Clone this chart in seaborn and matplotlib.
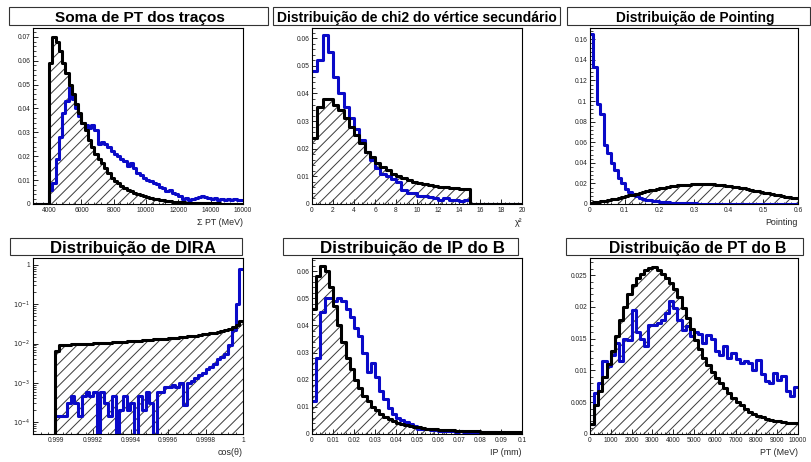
import numpy as np
import pandas as pd
import matplotlib
matplotlib.use("Agg")
import matplotlib.pyplot as plt
from matplotlib.patches import Rectangle
from matplotlib.ticker import MultipleLocator, FuncFormatter, LogLocator, NullFormatter
import seaborn as sns

# =====================================================
# DATA (normalised histograms)
# =====================================================

# Soma de PT dos tracos: 3000..16000 MeV, 200 MeV bins
sumpt_black = [0, 0, 0, 0, 0,
               0.059, 0.070, 0.068, 0.064, 0.059, 0.055, 0.050, 0.046, 0.042, 0.038,
               0.034, 0.031, 0.027, 0.024, 0.021, 0.019, 0.017, 0.015, 0.013, 0.011,
               0.0098, 0.0087, 0.0077, 0.0068, 0.006, 0.0053, 0.0047, 0.0041, 0.0036, 0.0032,
               0.0028, 0.0025, 0.0022, 0.0019, 0.0017, 0.0015, 0.0013, 0.0012, 0.0010, 0.0009,
               0.0008, 0.0007, 0.0006, 0.0006, 0.0005, 0.0005, 0.0004, 0.0004, 0.0004, 0.0003,
               0.0003, 0.0003, 0.0003, 0.0002, 0.0002, 0.0002, 0.0002, 0.0002, 0.0002, 0.0002]
sumpt_blue = [0, 0, 0, 0, 0,
              0.006, 0.009, 0.019, 0.028, 0.038, 0.043, 0.049, 0.044, 0.040, 0.037,
              0.034, 0.033, 0.032, 0.033, 0.031, 0.025, 0.026, 0.025, 0.024, 0.022,
              0.021, 0.020, 0.019, 0.018, 0.016, 0.017, 0.015, 0.013, 0.012, 0.011,
              0.010, 0.0095, 0.009, 0.0085, 0.007, 0.0065, 0.0055, 0.006, 0.0045, 0.004,
              0.0035, 0.002, 0.0025, 0.0015, 0.002, 0.0025, 0.003, 0.0035, 0.003, 0.0025,
              0.002, 0.0025, 0.0015, 0.002, 0.0015, 0.002, 0.0015, 0.002, 0.0015, 0.0015]

# chi2 do vertice secundario: 0..20, 0.5 bins
chi2_black = [0.024, 0.035, 0.038, 0.038, 0.036, 0.034, 0.031, 0.028, 0.025, 0.022,
              0.019, 0.017, 0.015, 0.0135, 0.0122, 0.011, 0.010, 0.0093, 0.0087, 0.0081,
              0.0076, 0.0072, 0.0068, 0.0065, 0.0062, 0.006, 0.0058, 0.0057, 0.0055, 0.0053,
              0, 0, 0, 0, 0, 0, 0, 0, 0, 0]
chi2_blue = [0.048, 0.052, 0.061, 0.055, 0.046, 0.040, 0.035, 0.031, 0.027, 0.023,
             0.019, 0.016, 0.013, 0.011, 0.010, 0.009, 0.008, 0.005, 0.004, 0.004,
             0.003, 0.003, 0.0025, 0.002, 0.0015, 0.002, 0.0015, 0.0015, 0.001, 0.0015,
             0, 0, 0, 0, 0, 0, 0, 0, 0, 0]

# Pointing: 0..0.6, 0.01 bins
point_black = [0.001, 0.0015, 0.002, 0.0025, 0.003, 0.0037, 0.0045, 0.0053, 0.006, 0.0068,
               0.0076, 0.0084, 0.0092, 0.010, 0.0108, 0.0116, 0.0124, 0.0132, 0.014, 0.0147,
               0.0154, 0.016, 0.0166, 0.0171, 0.0176, 0.018, 0.0183, 0.0186, 0.0188, 0.019,
               0.0191, 0.0192, 0.0192, 0.0192, 0.0191, 0.019, 0.0188, 0.0185, 0.0182, 0.0178,
               0.0174, 0.0169, 0.0164, 0.0158, 0.0152, 0.0145, 0.0138, 0.0131, 0.0124, 0.0117,
               0.011, 0.0103, 0.0096, 0.009, 0.0084, 0.0078, 0.0072, 0.0066, 0.006, 0.0054]
point_blue = [0.165, 0.133, 0.097, 0.087, 0.057, 0.050, 0.040, 0.033, 0.025, 0.020,
              0.015, 0.012, 0.010, 0.008, 0.006, 0.005, 0.004, 0.0035, 0.003, 0.0025,
              0.002, 0.0018, 0.0015, 0.0013, 0.001, 0.0009, 0.0008, 0.0007, 0.0006, 0.0005,
              0.0005, 0.0004, 0.0004, 0.0003, 0.0003, 0.0002, 0.0002, 0.0002, 0.0002, 0.0002,
              0.0002, 0.0002, 0.0002, 0.0002, 0.0002, 0.0001, 0.0001, 0.0001, 0.0001, 0.0001,
              0.0001, 0.0001, 0.0001, 0.0001, 0.0001, 0.0001, 0.0001, 0.0001, 0.0001, 0.0001]

# DIRA: 0.99888..1.0, 0.00002 bins (log y), empty below 0.999
dira_black = [0, 0, 0, 0, 0, 0,
              0.0065, 0.0092, 0.0093, 0.0094, 0.0095, 0.0096, 0.0097, 0.0098, 0.0099, 0.0100,
              0.0101, 0.0102, 0.0104, 0.0105, 0.0106, 0.0108, 0.0109, 0.0111, 0.0112, 0.0114,
              0.0116, 0.0117, 0.0119, 0.0121, 0.0123, 0.0125, 0.0127, 0.0129, 0.0131, 0.0134,
              0.0136, 0.0139, 0.0142, 0.0145, 0.0148, 0.0152, 0.0156, 0.0160, 0.0165, 0.0170,
              0.0176, 0.0183, 0.0190, 0.0199, 0.0210, 0.0223, 0.0240, 0.0262, 0.0295, 0.0380]
dira_blue = [0, 0, 0, 0, 0, 0,
             1.4e-4, 1.4e-4, 1.4e-4, 3.0e-4, 4.5e-4, 3.0e-4, 1.4e-4, 4.5e-4, 6.0e-4, 4.5e-4,
             6.0e-4, 0, 6.0e-4, 3.0e-4, 1.4e-4, 4.5e-4, 0, 2.0e-4, 4.5e-4, 2.0e-4,
             3.0e-4, 0, 4.5e-4, 2.0e-4, 6.0e-4, 3.0e-4, 0, 6.0e-4, 6.0e-4, 8.0e-4,
             8.0e-4, 9.0e-4, 8.0e-4, 1.0e-3, 2.7e-4, 1.0e-3, 1.1e-3, 1.3e-3, 1.6e-3, 1.8e-3,
             2.2e-3, 2.6e-3, 3.0e-3, 4.0e-3, 4.5e-3, 5.5e-3, 9.0e-3, 2.2e-2, 1.0e-1, 8.0e-1]

# IP do B: 0..0.1 mm, 0.002 bins
ip_black = [0.046, 0.058, 0.062, 0.060, 0.054, 0.047, 0.040, 0.034, 0.028, 0.024,
            0.020, 0.017, 0.014, 0.012, 0.010, 0.0088, 0.0075, 0.0064, 0.0055, 0.0048,
            0.0042, 0.0037, 0.0033, 0.003, 0.0027, 0.0024, 0.0022, 0.002, 0.0018, 0.0017,
            0.0016, 0.0015, 0.0014, 0.0013, 0.0012, 0.0012, 0.0011, 0.0011, 0.001, 0.001,
            0.0009, 0.0009, 0.0009, 0.0008, 0.0008, 0.0008, 0.0007, 0.0007, 0.0007, 0.0007]
ip_blue = [0.012, 0.028, 0.045, 0.050, 0.050, 0.049, 0.050, 0.049, 0.046, 0.043,
           0.039, 0.036, 0.030, 0.023, 0.026, 0.021, 0.016, 0.013, 0.0095, 0.0075,
           0.006, 0.005, 0.0045, 0.0035, 0.003, 0.002, 0.002, 0.0018, 0.0015, 0.0015,
           0.0012, 0.001, 0.0012, 0.001, 0.0009, 0.001, 0.0008, 0.0009, 0.0007, 0.0008,
           0.0006, 0.0007, 0.0006, 0.0006, 0.0005, 0.0006, 0.0005, 0.0005, 0.0005, 0.0005]

# PT do B: 0..10000 MeV, 200 MeV bins
ptb_black = [0.0015, 0.0045, 0.0068, 0.009, 0.011, 0.013, 0.0155, 0.018, 0.020, 0.022,
             0.0235, 0.0245, 0.0252, 0.0258, 0.0262, 0.0263, 0.0258, 0.0252, 0.0245, 0.0238,
             0.0228, 0.0215, 0.0198, 0.0182, 0.0165, 0.0148, 0.0133, 0.0120, 0.0108, 0.0097,
             0.0088, 0.0081, 0.0072, 0.0064, 0.0057, 0.0051, 0.0045, 0.0039, 0.0035, 0.0032,
             0.0029, 0.0026, 0.0024, 0.0022, 0.0021, 0.002, 0.0019, 0.0018, 0.0018, 0.0017]
ptb_blue = [0.0015, 0.0065, 0.0080, 0.0115, 0.0107, 0.0125, 0.0143, 0.0115, 0.0150, 0.0148,
            0.0195, 0.0160, 0.0150, 0.0138, 0.0172, 0.0172, 0.0175, 0.0180, 0.0190, 0.0210,
            0.0198, 0.0180, 0.0164, 0.0170, 0.0154, 0.0160, 0.0158, 0.0143, 0.0156, 0.0150,
            0.0130, 0.0125, 0.0138, 0.0120, 0.0128, 0.0118, 0.0112, 0.0115, 0.0112, 0.0101,
            0.0117, 0.0095, 0.0083, 0.0081, 0.0096, 0.0085, 0.0091, 0.0068, 0.0060, 0.0074]

titles = ["Soma de PT dos traços", "Distribuição de chi2 do vértice secundário",
          "Distribuição de Pointing", "Distribuição de DIRA",
          "Distribuição de IP do B", "Distribuição de PT do B"]
xlabels = ["Σ PT (MeV)", "χ²", "Pointing", "cos(θ)", "IP (mm)", "PT (MeV)"]

# =====================================================
# STYLE
# =====================================================

sns.set_style("white")
plt.rcParams["font.family"] = ["Liberation Sans", "DejaVu Sans"]
plt.rcParams["hatch.linewidth"] = 0.7

BLUE = "#0a0ac8"
HATCH = "#3a3a3a"
W, H = 811, 462

fig = plt.figure(figsize=(W / 100, H / 100), dpi=100)
renderer = fig.canvas.get_renderer()


def px_rect(x0, y0, w, h):
    return [x0 / W, 1 - (y0 + h) / H, w / W, h / H]


def draw_hist(ax, lo, hi, black, blue):
    edges = list(np.linspace(lo, hi, len(black) + 1))
    centers = [(a + b) / 2 for a, b in zip(edges[:-1], edges[1:])]
    df = pd.DataFrame({"x": centers, "black": black, "blue": blue})
    # hatched area under the black histogram
    sns.histplot(data=df, x="x", weights="black", bins=edges, element="step",
                 fill=True, color=HATCH, hatch="///", facecolor="none",
                 edgecolor=HATCH, linewidth=0, alpha=1, ax=ax)
    sns.histplot(data=df, x="x", weights="blue", bins=edges, element="step",
                 fill=False, color=BLUE, linewidth=2.2, ax=ax)
    sns.histplot(data=df, x="x", weights="black", bins=edges, element="step",
                 fill=False, color="black", linewidth=2.2, ax=ax)
    ax.set_ylabel("")


def style_axes(ax, xlabel):
    ax.tick_params(which="major", direction="in", length=3.5, width=0.7,
                   labelsize=4.8, pad=2, colors="#222222", left=True, bottom=True)
    ax.tick_params(which="minor", direction="in", length=1.8, width=0.6,
                   left=True, bottom=True)
    for s in ax.spines.values():
        s.set_linewidth(0.8)
        s.set_color("black")
    ax.set_xlabel(xlabel, loc="right", fontsize=6.4, labelpad=3)


fmt = FuncFormatter(lambda v, p: "%g" % round(v, 7))

# axes positions in pixels (left, top, width, height)
positions = [(33, 28, 210, 176), (312, 28, 210, 176), (590, 28, 208, 176),
             (33, 258, 210, 176), (312, 258, 210, 176), (590, 258, 208, 176)]
axes = [fig.add_axes(px_rect(*p)) for p in positions]

# Panel 1
ax = axes[0]
draw_hist(ax, 3000, 16000, sumpt_black, sumpt_blue)
ax.set_xlim(3000, 16000)
ax.set_ylim(0, 0.0737)
ax.set_xticks(np.arange(4000, 16001, 2000))
ax.xaxis.set_minor_locator(MultipleLocator(400))
ax.yaxis.set_major_locator(MultipleLocator(0.01))
ax.yaxis.set_minor_locator(MultipleLocator(0.002))

# Panel 2
ax = axes[1]
draw_hist(ax, 0, 20, chi2_black, chi2_blue)
ax.set_xlim(0, 20)
ax.set_ylim(0, 0.0637)
ax.xaxis.set_major_locator(MultipleLocator(2))
ax.xaxis.set_minor_locator(MultipleLocator(0.4))
ax.yaxis.set_major_locator(MultipleLocator(0.01))
ax.yaxis.set_minor_locator(MultipleLocator(0.002))

# Panel 3
ax = axes[2]
draw_hist(ax, 0, 0.6, point_black, point_blue)
ax.set_xlim(0, 0.6)
ax.set_ylim(0, 0.171)
ax.xaxis.set_major_locator(MultipleLocator(0.1))
ax.xaxis.set_minor_locator(MultipleLocator(0.02))
ax.yaxis.set_major_locator(MultipleLocator(0.02))
ax.yaxis.set_minor_locator(MultipleLocator(0.004))

# Panel 4 (log)
ax = axes[3]
draw_hist(ax, 0.99888, 1.0, dira_black, dira_blue)
ax.set_yscale("log")
ax.set_xlim(0.99888, 1.0)
ax.set_ylim(5e-5, 1.5)
ax.xaxis.set_major_locator(MultipleLocator(0.0002))
ax.xaxis.set_minor_locator(MultipleLocator(0.00004))
ax.yaxis.set_major_locator(LogLocator(base=10, numticks=10))
ax.yaxis.set_minor_locator(LogLocator(base=10, subs=np.arange(2, 10), numticks=20))
ax.yaxis.set_minor_formatter(NullFormatter())
ax.yaxis.set_major_formatter(FuncFormatter(
    lambda v, p: "1" if abs(v - 1) < 1e-9 else r"$10^{%d}$" % round(np.log10(v))))

# Panel 5
ax = axes[4]
draw_hist(ax, 0, 0.1, ip_black, ip_blue)
ax.set_xlim(0, 0.1)
ax.set_ylim(0, 0.0648)
ax.xaxis.set_major_locator(MultipleLocator(0.01))
ax.xaxis.set_minor_locator(MultipleLocator(0.002))
ax.yaxis.set_major_locator(MultipleLocator(0.01))
ax.yaxis.set_minor_locator(MultipleLocator(0.002))

# Panel 6
ax = axes[5]
draw_hist(ax, 0, 10000, ptb_black, ptb_blue)
ax.set_xlim(0, 10000)
ax.set_ylim(0, 0.0277)
ax.xaxis.set_major_locator(MultipleLocator(1000))
ax.xaxis.set_minor_locator(MultipleLocator(200))
ax.yaxis.set_major_locator(MultipleLocator(0.005))
ax.yaxis.set_minor_locator(MultipleLocator(0.001))

for i, ax in enumerate(axes):
    style_axes(ax, xlabels[i])
    ax.xaxis.set_major_formatter(fmt)
    if i != 3:
        ax.yaxis.set_major_formatter(fmt)

# =====================================================
# TITLE BOXES
# =====================================================

boxes = [(9, 7, 259, 18), (273, 7, 287, 18), (567, 7, 243, 18),
         (10, 238, 232, 17), (283, 238, 235, 17), (566, 238, 237, 17)]
# text centre x, baseline y, target width (px)
title_pos = [(140, 22, 170), (417, 22, 280), (695, 22, 159),
             (133, 253, 167), (412, 253, 185), (698, 253, 178)]

for (x0, y0, w, h), (cx, by, tw), title in zip(boxes, title_pos, titles):
    fig.add_artist(Rectangle((x0 / W, 1 - (y0 + h) / H), w / W, h / H,
                             transform=fig.transFigure, facecolor="white",
                             edgecolor="#333333", linewidth=0.8, zorder=1))
    t = fig.text(cx / W, 1 - by / H, title, ha="center", va="baseline",
                 fontsize=10, fontweight="bold", color="black", zorder=2)
    width = t.get_window_extent(renderer).width
    t.set_fontsize(10 * tw / width)

fig.savefig("out.png", dpi=100, facecolor="white")
